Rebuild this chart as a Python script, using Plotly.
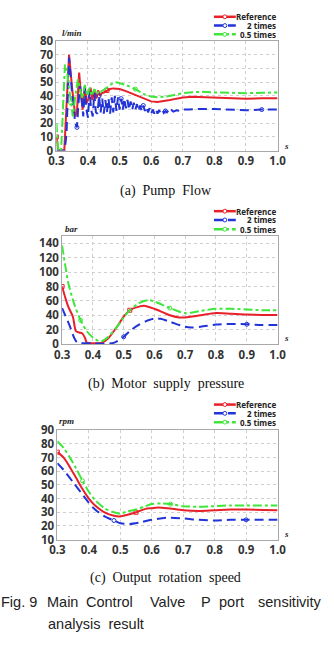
import plotly.graph_objects as go

W, H = 334, 646

# ---------------- data ----------------
# (a) Pump flow [l/min]
a_ref_x = [0.300, 0.305, 0.325, 0.340, 0.350, 0.360, 0.365, 0.372, 0.378, 0.383, 0.390, 0.396, 0.402,
           0.408, 0.414, 0.420, 0.426, 0.432, 0.438, 0.444, 0.450, 0.46, 0.47, 0.48, 0.49, 0.50, 0.52,
           0.55, 0.58, 0.60, 0.62, 0.64, 0.66, 0.68, 0.70, 0.73, 0.76, 0.80, 0.85, 0.90, 0.95, 1.00]
a_ref_y = [10, 0, 0, 70, 45, 25, 28, 57, 40, 30, 47, 35, 38,
           46, 37, 45, 38, 44, 40, 42, 42.5, 44, 45, 45.5, 45.5, 45, 43.5,
           40.5, 37.5, 36, 35.5, 36, 37, 38, 38.8, 39.3, 39, 38.5, 38.2, 38, 38.2, 38.3]

a_two_x = [0.300, 0.310, 0.320, 0.326, 0.332, 0.340, 0.345, 0.352, 0.360, 0.365, 0.370, 0.375, 0.380,
           0.385, 0.390, 0.395, 0.400, 0.405, 0.410, 0.415, 0.420, 0.425, 0.430, 0.435, 0.440,
           0.445, 0.450, 0.455, 0.460, 0.465, 0.470, 0.475, 0.480, 0.485, 0.490, 0.495, 0.500,
           0.505, 0.510, 0.515, 0.520, 0.525, 0.530, 0.535, 0.540, 0.545, 0.550, 0.555, 0.560,
           0.565, 0.570, 0.575, 0.580, 0.585, 0.590, 0.595, 0.600, 0.605, 0.610, 0.615, 0.620,
           0.625, 0.630, 0.635, 0.640, 0.645, 0.650, 0.655, 0.660, 0.665, 0.670, 0.680, 0.690,
           0.700, 0.720, 0.750, 0.800, 0.850, 0.900, 0.950, 1.000]
a_two_y = [0, 0, 0, 0, 12, 68, 55, 35, 20, 17, 35, 47, 38,
           25, 46, 30, 24, 44, 30, 25, 42, 28, 27, 40, 28,
           38, 27, 37, 28, 38, 27, 39, 28, 40, 29, 39, 30,
           38, 30, 38, 31, 37, 30, 36, 30, 35, 30, 34, 29,
           33, 29, 33, 29, 32, 28, 31, 27, 30, 27, 30, 27,
           29.5, 27.5, 29.5, 27.5, 29, 28, 29.5, 28, 29.5, 28.5, 29.5, 29,
           30, 30, 30.5, 30.5, 30, 29.5, 30, 30]

a_half_x = [0.300, 0.303, 0.306, 0.315, 0.318, 0.327, 0.335, 0.345, 0.352, 0.360, 0.368, 0.375, 0.382,
            0.390, 0.398, 0.405, 0.412, 0.420, 0.428, 0.435, 0.440, 0.450, 0.46, 0.47, 0.48, 0.49,
            0.50, 0.52, 0.55, 0.58, 0.60, 0.62, 0.65, 0.68, 0.70, 0.73, 0.76, 0.80, 0.85, 0.90, 0.95, 1.00]
a_half_y = [20, 8, 0, 0, 15, 63, 55, 35, 25, 40, 52, 45, 38,
            48, 40, 46, 40, 45, 41, 44, 43, 44.5, 46, 48, 49.5, 50,
            49.5, 48, 45, 41, 39.5, 39, 39.5, 41, 42, 42.7, 43, 42.5, 42, 42, 42.3, 42.5]

# (b) Motor supply pressure [bar]
b_ref_x = [0.30, 0.31, 0.32, 0.335, 0.345, 0.355, 0.365, 0.375, 0.38, 0.40, 0.43, 0.45, 0.48, 0.50,
           0.52, 0.55, 0.57, 0.60, 0.65, 0.68, 0.70, 0.75, 0.80, 0.85, 0.90, 0.95, 1.00]
b_ref_y = [80, 65, 52, 38, 18, 16, 15, 8, 2, 1, 2, 8, 25, 38,
           47, 52, 53, 49, 40, 37, 37, 40, 43, 42, 41, 40.5, 40.5]
b_two_x = [0.30, 0.31, 0.325, 0.34, 0.35, 0.40, 0.45, 0.47, 0.50, 0.52, 0.55, 0.58, 0.60, 0.62,
           0.65, 0.70, 0.72, 0.75, 0.80, 0.85, 0.90, 0.95, 1.00]
b_two_y = [50, 40, 25, 8, 2, 1, 0.5, 2, 10, 18, 27, 33, 35.5, 35,
           31, 24, 23, 24, 27, 28, 27.5, 26.5, 26.5]
b_half_x = [0.30, 0.31, 0.32, 0.34, 0.36, 0.38, 0.40, 0.42, 0.43, 0.45, 0.48, 0.50, 0.52, 0.55,
            0.58, 0.60, 0.65, 0.70, 0.75, 0.80, 0.85, 0.90, 0.95, 1.00]
b_half_y = [137, 110, 85, 55, 33, 18, 9, 4, 4, 10, 25, 37, 47, 57,
            61, 59, 50, 43, 46, 49, 49, 48, 47, 47]

# (c) Output rotation speed [rpm]
c_ref_x = [0.30, 0.32, 0.34, 0.36, 0.38, 0.40, 0.42, 0.45, 0.48, 0.50, 0.52, 0.55, 0.58, 0.60,
           0.62, 0.65, 0.70, 0.75, 0.80, 0.85, 0.90, 1.00]
c_ref_y = [74, 70, 63, 55, 47, 40, 35, 30, 27.5, 27, 28, 30, 32.5, 33,
           33.5, 33, 31.5, 31, 31.5, 32, 32, 31.5]
c_two_x = [0.30, 0.32, 0.35, 0.38, 0.40, 0.42, 0.45, 0.48, 0.50, 0.53, 0.56, 0.60, 0.65, 0.70,
           0.75, 0.80, 0.85, 0.90, 1.00]
c_two_y = [66, 61, 52, 43, 37, 32, 27, 24, 22, 21.5, 22.5, 24.5, 26, 25.5,
           24.5, 24, 24.5, 24.5, 24.5]
c_half_x = [0.30, 0.32, 0.34, 0.36, 0.38, 0.40, 0.42, 0.45, 0.48, 0.50, 0.52, 0.55, 0.58, 0.60,
            0.63, 0.66, 0.70, 0.75, 0.80, 0.85, 0.90, 1.00]
c_half_y = [82, 77, 70, 62, 53, 45, 39, 33, 30, 29, 30.5, 32, 34.5, 36,
            36.5, 36, 34.5, 34, 34.5, 35, 35, 35]

series_names = ["Reference", "2 times", "0.5 times"]
x_ticks = [0.3, 0.4, 0.5, 0.6, 0.7, 0.8, 0.9, 1.0]
units = ["l/min", "bar", "rpm"]
captions = ["(a)  Pump  Flow", "(b)  Motor  supply  pressure", "(c)  Output  rotation  speed"]

# ---------------- styles ----------------
RED, BLUE, GREEN = "#e8202a", "#2233d8", "#3ee63a"
styles = [
    dict(color=RED, dash="solid", symbol="square-open"),
    dict(color=BLUE, dash="9px,5px", symbol="circle-open"),
    dict(color=GREEN, dash="9px,3px,3px,3px", symbol="circle-open"),
]

panels = [
    dict(box=(51, 284, 34, 146), yr=[0, 80], dt=10, shape="linear", maxd=[2, 6, 2],
         data=[(a_ref_x, a_ref_y), (a_two_x, a_two_y), (a_half_x, a_half_y)],
         leg_y=[9, 18, 27], unit_xy=(55, 26), s_y=141, cap_y=187),
    dict(box=(57, 284, 233.6, 344), yr=[0, 150], dt=20, shape="spline", maxd=[2, 2, 2],
         data=[(b_ref_x, b_ref_y), (b_two_x, b_two_y), (b_half_x, b_half_y)],
         leg_y=[208, 217, 226.5], unit_xy=(58, 226), s_y=338, cap_y=385),
    dict(box=(52, 284, 432.3, 544.3), yr=[10, 90], dt=10, shape="spline", maxd=[2, 2, 2],
         data=[(c_ref_x, c_ref_y), (c_two_x, c_two_y), (c_half_x, c_half_y)],
         leg_y=[406, 415, 424], unit_xy=(52, 423), s_y=539, cap_y=584),
]


def px(x):
    return x / W


def py(y):
    return 1 - y / H


fig = go.Figure()
shapes, annotations = [], []
tickfont = dict(family="Noto Sans", size=11.5, color="#333333", weight="bold")

for i, p in enumerate(panels):
    n = "" if i == 0 else str(i + 1)
    l, r, t, b = p["box"]
    for k, (xs, ys) in enumerate(p["data"]):
        st = styles[k]
        fig.add_trace(go.Scatter(
            x=xs, y=ys, mode="lines+markers", name=series_names[k], showlegend=False,
            xaxis="x" + n, yaxis="y" + n,
            line=dict(color=st["color"], width=2, dash=st["dash"], shape=p["shape"], smoothing=0.8),
            marker=dict(symbol=st["symbol"], size=4, color=st["color"], line=dict(width=1),
                        maxdisplayed=p["maxd"][k]),
        ))
    fig.update_layout(**{
        "xaxis" + n: dict(domain=[px(l), px(r)], range=[0.3, 1.0], tickvals=x_ticks,
                          tickformat=".1f", anchor="y" + n, showgrid=True, gridcolor="#cfcfcf",
                          griddash="dot", gridwidth=1, showline=True, mirror=True,
                          linecolor="#a8a8a8", linewidth=1, ticks="", tickfont=tickfont,
                          zeroline=False),
        "yaxis" + n: dict(domain=[py(b), py(t)], range=p["yr"], dtick=p["dt"], tick0=0,
                          anchor="x" + n, showgrid=True, gridcolor="#cfcfcf", griddash="dot",
                          gridwidth=1, showline=True, mirror=True, linecolor="#a8a8a8",
                          linewidth=1, ticks="", tickfont=tickfont, zeroline=False),
    })
    for k, ly in enumerate(p["leg_y"]):
        st = styles[k]
        shapes.append(dict(type="line", xref="paper", yref="paper", x0=px(217), x1=px(240),
                           y0=py(ly), y1=py(ly),
                           line=dict(color=st["color"], width=2.5, dash=st["dash"])))
        shapes.append(dict(type="circle", xref="paper", yref="paper",
                           x0=px(226.5), x1=px(230.5), y0=py(ly - 2), y1=py(ly + 2),
                           fillcolor="white", line=dict(color=st["color"], width=1)))
        annotations.append(dict(text=series_names[k], xref="paper", yref="paper", x=px(284),
                                y=py(ly), xanchor="right", yanchor="middle", showarrow=False,
                                font=dict(family="Noto Sans", size=8, color="#222222",
                                          weight="bold")))
    ux, uy = p["unit_xy"]
    annotations.append(dict(text=units[i], xref="paper", yref="paper", x=px(ux), y=py(uy),
                            xanchor="left", yanchor="middle", showarrow=False,
                            font=dict(family="Liberation Serif", size=9, color="#222222",
                                      style="italic", weight="bold")))
    annotations.append(dict(text="s", xref="paper", yref="paper", x=px(289), y=py(p["s_y"]),
                            xanchor="left", yanchor="middle", showarrow=False,
                            font=dict(family="Liberation Serif", size=9, color="#222222",
                                      style="italic", weight="bold")))
    annotations.append(dict(text=captions[i], xref="paper", yref="paper", x=px(166),
                            y=py(p["cap_y"]), xanchor="center", yanchor="middle",
                            showarrow=False,
                            font=dict(family="Liberation Serif", size=14, color="#111111")))

fig_words = [("Fig. 9", 33, "right"), ("Main", 39, "left"), ("Control", 80, "left"),
             ("Valve", 148, "left"), ("P", 201, "left"), ("port", 220, "left"),
             ("sensitivity", 333, "right")]
for wtxt, wx, anc in fig_words:
    annotations.append(dict(text=wtxt, xref="paper", yref="paper", x=px(wx), y=py(608),
                            xanchor=anc, yanchor="middle", showarrow=False,
                            font=dict(family="Liberation Sans", size=14.5, color="#222222")))
annotations.append(dict(text="analysis  result", xref="paper", yref="paper", x=px(40),
                        y=py(631), xanchor="left", yanchor="middle", showarrow=False,
                        font=dict(family="Liberation Sans", size=14.5, color="#222222")))

fig.update_layout(width=W, height=H, margin=dict(l=0, r=0, t=0, b=0),
                  paper_bgcolor="white", plot_bgcolor="white",
                  shapes=shapes, annotations=annotations, showlegend=False)

fig.write_html("out.html")
